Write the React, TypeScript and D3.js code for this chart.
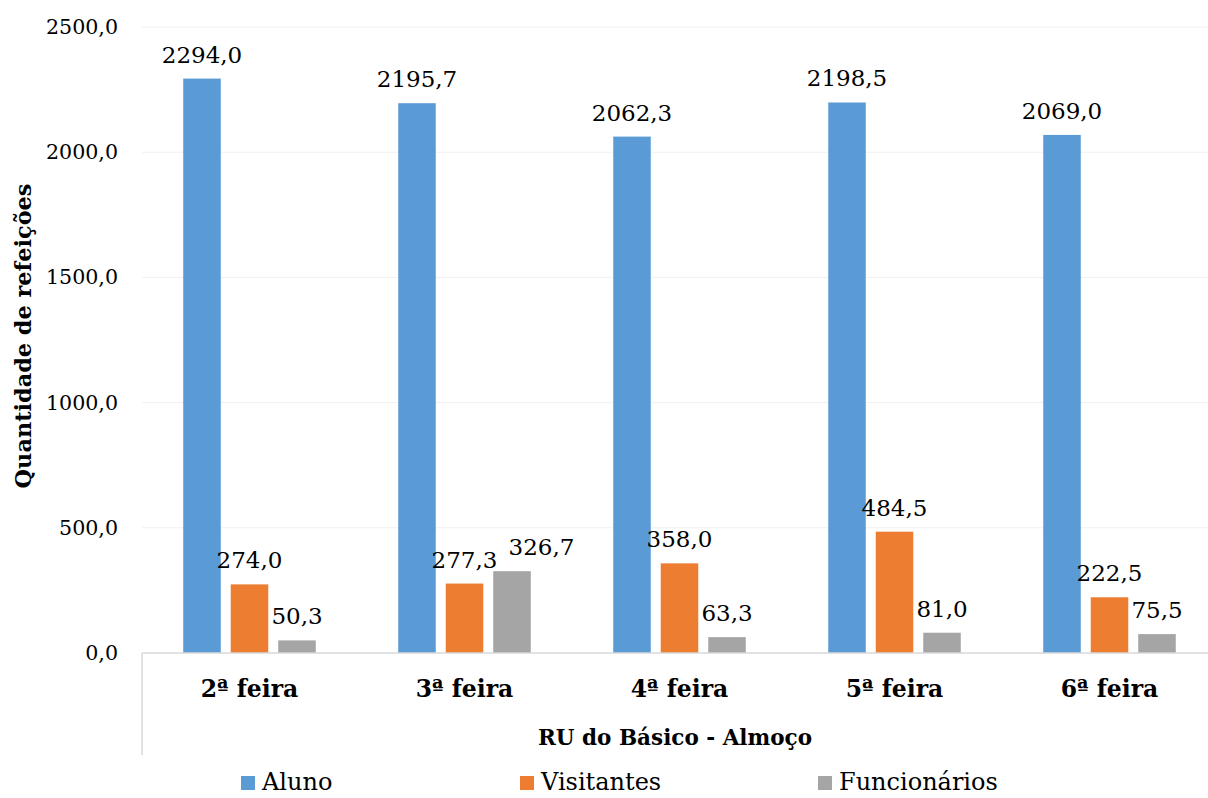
import React from "react";
import * as d3 from "d3";

const categories = ["2ª feira", "3ª feira", "4ª feira", "5ª feira", "6ª feira"];
const seriesNames = ["Aluno", "Visitantes", "Funcionários"];
const aluno = [2294.0, 2195.7, 2062.3, 2198.5, 2069.0];
const visitantes = [274.0, 277.3, 358.0, 484.5, 222.5];
const funcionarios = [50.3, 326.7, 63.3, 81.0, 75.5];
const yTicks = [0, 500, 1000, 1500, 2000, 2500];
const colors = ["#5b9bd5", "#ed7d31", "#a5a5a5"];

const W = 1208;
const H = 798;
const FONT = "'DejaVu Serif', serif";
const LABEL_FS = 23;

export default function App() {
  const series = [aluno, visitantes, funcionarios];
  const x = d3.scaleBand<string>().domain(categories).range([142, 1217]);
  const inner = d3.scaleBand<number>().domain([0, 1, 2]).range([0, x.bandwidth()]).paddingInner(0.21).paddingOuter(0.868);
  const y = d3.scaleLinear().domain([0, 2500]).range([653, 27]);
  const fmt = (v: number) => v.toFixed(1).replace(".", ",");
  const legendX = [241, 520, 818];
  const estW = (s: string) => s.length * 0.6 * LABEL_FS;

  const labels: { key: string; x: number; y: number; text: string }[] = [];
  categories.forEach((c, ci) => {
    let prevRight = -Infinity;
    let prevY = 0;
    series.forEach((s, si) => {
      const bx = (x(c) as number) + (inner(si) as number);
      const bw = inner.bandwidth();
      const text = fmt(s[ci]);
      let cx = bx + bw / 2;
      const ly = y(s[ci]) - 16;
      const w = estW(text);
      if (cx - w / 2 < prevRight + 4 && Math.abs(ly - prevY) < LABEL_FS) {
        cx = prevRight + 8 + w / 2;
      }
      prevRight = cx + w / 2;
      prevY = ly;
      labels.push({ key: `${ci}-${si}`, x: cx, y: ly, text });
    });
  });

  return (
    <svg width={W} height={H} style={{ position: "absolute", left: 0, top: 0, background: "#fff" }} fontFamily={FONT}>
      {yTicks.map((t) => (
        <g key={t}>
          {t > 0 && <line x1={142} x2={W} y1={y(t)} y2={y(t)} stroke="#f0f0f0" strokeWidth={1} />}
          <text x={118} y={y(t) + 7} textAnchor="end" fontSize={20.6} fill="#000">{fmt(t)}</text>
        </g>
      ))}
      {categories.map((c, ci) => (
        <g key={c}>
          {series.map((s, si) => {
            const bx = (x(c) as number) + (inner(si) as number);
            const bw = inner.bandwidth();
            return <rect key={si} x={bx} y={y(s[ci])} width={bw} height={y(0) - y(s[ci])} fill={colors[si]} />;
          })}
          <text x={(x(c) as number) + x.bandwidth() / 2} y={697} textAnchor="middle" fontSize={23.5} fontWeight="bold" fill="#000">{c}</text>
        </g>
      ))}
      {labels.map((l) => (
        <text key={l.key} x={l.x} y={l.y} textAnchor="middle" fontSize={LABEL_FS} fill="#000">{l.text}</text>
      ))}
      <line x1={142} x2={W} y1={y(0)} y2={y(0)} stroke="#d9d9d9" strokeWidth={1.5} />
      <line x1={142} x2={142} y1={y(0)} y2={755} stroke="#d9d9d9" strokeWidth={1.5} />
      <text x={675} y={745} textAnchor="middle" fontSize={21.5} fontWeight="bold" fill="#000">RU do Básico - Almoço</text>
      <text transform="translate(31,336) rotate(-90)" textAnchor="middle" fontSize={22.4} fontWeight="bold" fill="#000">Quantidade de refeições</text>
      {seriesNames.map((n, i) => (
        <g key={n}>
          <rect x={legendX[i]} y={776} width={14} height={14} fill={colors[i]} />
          <text x={legendX[i] + 21} y={790} fontSize={24} fill="#000">{n}</text>
        </g>
      ))}
    </svg>
  );
}
